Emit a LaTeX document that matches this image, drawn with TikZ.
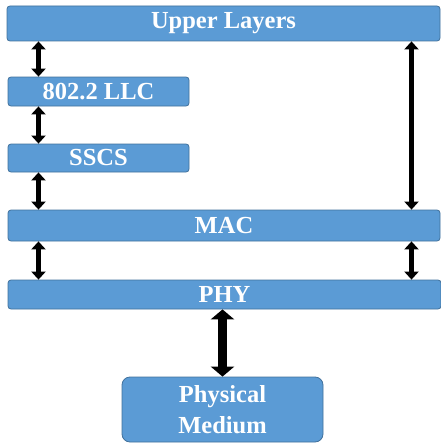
\documentclass[tikz,border=0pt]{standalone}
\usepackage{fontspec}
\setmainfont{Liberation Serif}
\usetikzlibrary{arrows.meta,calc}
\definecolor{boxfill}{HTML}{5B9BD5}
\definecolor{boxline}{HTML}{41719C}
\tikzset{
  layer/.style={draw=boxline, line width=0.8pt, fill=boxfill, rounded corners=3pt,
    inner sep=0pt, text=white, font=\fontsize{24.5}{31}\selectfont\bfseries, align=center},
  link/.style={line width=5pt, {Triangle[width=14pt,length=8pt]}-{Triangle[width=14pt,length=8pt]}},
  biglink/.style={line width=9pt, {Triangle[width=23pt,length=10pt]}-{Triangle[width=23pt,length=10pt]}}
}
\begin{document}
\begin{tikzpicture}[x=1pt,y=-1pt]
\useasboundingbox (0,0) rectangle (441,444);
\node[layer, minimum width=433pt, minimum height=35pt] (up) at (223.5,23.5) {Upper Layers};
\node[layer, minimum width=181pt, minimum height=29pt] (llc) at (98.5,91.5) {802.2 LLC};
\node[layer, minimum width=181pt, minimum height=28pt] (sscs) at (98.5,158) {SSCS};
\node[layer, minimum width=432pt, minimum height=31pt] (mac) at (224,225.5) {MAC};
\node[layer, minimum width=433pt, minimum height=29pt] (phy) at (224.5,294.5) {PHY};
\node[layer, rounded corners=8pt, minimum width=201pt, minimum height=65pt] (med) at (222.5,409.5) {Physical\\Medium};
\coordinate (xl) at (38.5,0);
\coordinate (xr) at (411.5,0);
\draw[link] (up.south -| xl) -- (llc.north -| xl);
\draw[link] (llc.south -| xl) -- (sscs.north -| xl);
\draw[link] (sscs.south -| xl) -- (mac.north -| xl);
\draw[link] (mac.south -| xl) -- (phy.north -| xl);
\draw[link] (up.south -| xr) -- (mac.north -| xr);
\draw[link] (mac.south -| xr) -- (phy.north -| xr);
\draw[biglink] (phy.south -| med.north) -- (med.north);
\end{tikzpicture}
\end{document}
